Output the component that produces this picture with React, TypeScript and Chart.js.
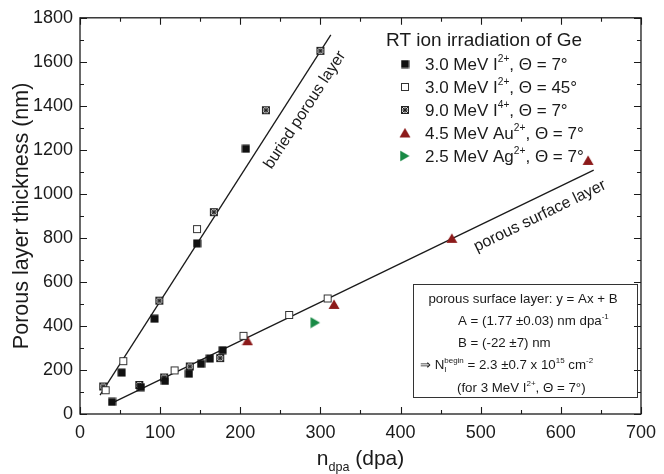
import React, { useEffect, useRef } from 'react';
import { Chart, registerables } from 'chart.js';

Chart.register(...registerables);

// ---- data (n_dpa, thickness nm) ----
const iodine2p7: number[][] = [
  [40, 55], [52, 188], [76, 122], [93, 433], [106, 150], [136, 183],
  [151, 228], [162, 252], [178, 290], [146, 775], [207, 1205],
];
const iodine2p45: number[][] = [
  [32, 108], [54, 240], [118, 198], [146, 840], [204, 355], [261, 450], [309, 525],
];
const iodine4p7: number[][] = [
  [29, 125], [74, 132], [99, 515], [105, 166], [137, 216], [175, 254],
  [167, 917], [232, 1380], [300, 1650],
];
const gold2p7: number[][] = [[209, 333], [317, 498], [464, 798], [634, 1152]];
const silver2p7: number[][] = [[294, 415]];
const buriedFit: number[][] = [[25, 86], [313, 1722]];
const surfaceFit: number[][] = [[39, 48], [641, 1108]];

const xTicks = [0, 100, 200, 300, 400, 500, 600, 700];
const yTicks = [0, 200, 400, 600, 800, 1000, 1200, 1400, 1600, 1800];

const legendLabels = [
  ['3.0 MeV I', '2+', ', \u0398 = 7\u00B0'],
  ['3.0 MeV I', '2+', ', \u0398 = 45\u00B0'],
  ['9.0 MeV I', '4+', ', \u0398 = 7\u00B0'],
  ['4.5 MeV Au', '2+', ', \u0398 = 7\u00B0'],
  ['2.5 MeV Ag', '2+', ', \u0398 = 7\u00B0'],
];

const FF = "'Liberation Sans', Arial, sans-serif";
const RED = '#8c1a1a';
const GREEN = '#188a45';

function mk(w: number, h: number, draw: (c: CanvasRenderingContext2D) => void) {
  const cv = document.createElement('canvas');
  cv.width = w;
  cv.height = h;
  const c = cv.getContext('2d')!;
  draw(c);
  return cv;
}

function makeMarkers() {
  const filled = mk(9, 9, (c) => {
    c.fillStyle = '#111';
    c.fillRect(0.5, 0.5, 8, 8);
  });
  const open = mk(10, 10, (c) => {
    c.fillStyle = '#fff';
    c.fillRect(1, 1, 8, 8);
    c.strokeStyle = '#333';
    c.lineWidth = 1;
    c.strokeRect(1.5, 1.5, 7, 7);
  });
  const crossed = mk(10, 10, (c) => {
    c.fillStyle = '#d8d8d8';
    c.fillRect(1, 1, 8, 8);
    c.strokeStyle = '#222';
    c.lineWidth = 1;
    c.strokeRect(1.5, 1.5, 7, 7);
    c.beginPath();
    c.moveTo(2, 2); c.lineTo(8, 8);
    c.moveTo(8, 2); c.lineTo(2, 8);
    c.stroke();
    c.beginPath();
    c.arc(5, 5, 2, 0, Math.PI * 2);
    c.stroke();
  });
  const triUp = mk(12, 11, (c) => {
    c.fillStyle = RED;
    c.beginPath();
    c.moveTo(6, 0.5); c.lineTo(11.5, 10); c.lineTo(0.5, 10);
    c.closePath();
    c.fill();
  });
  const triRight = mk(11, 12, (c) => {
    c.fillStyle = GREEN;
    c.beginPath();
    c.moveTo(0.5, 0.5); c.lineTo(10, 6); c.lineTo(0.5, 11.5);
    c.closePath();
    c.fill();
  });
  return [filled, open, crossed, triUp, triRight];
}

type Part = { t: string; k?: 'sup' | 'sub'; sub?: string };

function drawRich(ctx: CanvasRenderingContext2D, parts: Part[], x: number, y: number, size: number) {
  let cx = x;
  for (const p of parts) {
    if (!p.k) {
      ctx.font = `${size}px ${FF}`;
      ctx.fillText(p.t, cx, y);
      cx += ctx.measureText(p.t).width;
    } else if (p.k === 'sup') {
      ctx.font = `${size * 0.6}px ${FF}`;
      ctx.fillText(p.t, cx, y - size * 0.45);
      let w = ctx.measureText(p.t).width;
      if (p.sub) {
        ctx.fillText(p.sub, cx, y + size * 0.25);
        w = Math.max(w, ctx.measureText(p.sub).width);
      }
      cx += w;
    } else {
      ctx.font = `${size * 0.6}px ${FF}`;
      ctx.fillText(p.t, cx, y + size * 0.3);
      cx += ctx.measureText(p.t).width;
    }
  }
  return cx - x;
}

function measureRich(ctx: CanvasRenderingContext2D, parts: Part[], size: number) {
  let w = 0;
  for (const p of parts) {
    ctx.font = p.k ? `${size * 0.6}px ${FF}` : `${size}px ${FF}`;
    let pw = ctx.measureText(p.t).width;
    if (p.sub) pw = Math.max(pw, ctx.measureText(p.sub).width);
    w += pw;
  }
  return w;
}

export default function App() {
  const ref = useRef<HTMLCanvasElement>(null);

  useEffect(() => {
    document.body.style.margin = '0';
    const markers = makeMarkers();

    const decor = {
      id: 'decor',
      afterDraw(chart: any) {
        const { ctx, chartArea: a, scales } = chart;
        const xs = scales.x;
        const ys = scales.y;
        ctx.save();
        // frame
        ctx.strokeStyle = '#1a1a1a';
        ctx.lineWidth = 1.3;
        ctx.strokeRect(a.left, a.top, a.right - a.left, a.bottom - a.top);
        ctx.lineWidth = 1.1;
        ctx.beginPath();
        for (let v = xTicks[0]; v <= xTicks[xTicks.length - 1]; v += 50) {
          const px = Math.round(xs.getPixelForValue(v)) + 0.5;
          const len = v % 100 === 0 ? 7 : 4;
          ctx.moveTo(px, a.bottom); ctx.lineTo(px, a.bottom - len);
          ctx.moveTo(px, a.top); ctx.lineTo(px, a.top + len);
        }
        for (let v = yTicks[0]; v <= yTicks[yTicks.length - 1]; v += 100) {
          const py = Math.round(ys.getPixelForValue(v)) + 0.5;
          const len = v % 200 === 0 ? 7 : 4;
          ctx.moveTo(a.left, py); ctx.lineTo(a.left + len, py);
          ctx.moveTo(a.right, py); ctx.lineTo(a.right - len, py);
        }
        ctx.stroke();

        ctx.fillStyle = '#1a1a1a';
        ctx.textBaseline = 'alphabetic';
        // y title
        ctx.save();
        ctx.translate(28, (a.top + a.bottom) / 2);
        ctx.rotate(-Math.PI / 2);
        ctx.font = `21.5px ${FF}`;
        ctx.textAlign = 'center';
        ctx.fillText('Porous layer thickness (nm)', 0, 0);
        ctx.restore();
        // x title
        const xt: Part[] = [{ t: 'n' }, { t: 'dpa', k: 'sub' }, { t: ' (dpa)' }];
        const xw = measureRich(ctx, xt, 21);
        ctx.textAlign = 'left';
        drawRich(ctx, xt, (a.left + a.right) / 2 - xw / 2, 465, 21);

        // legend
        ctx.font = `19px ${FF}`;
        ctx.fillText('RT ion irradiation of Ge', 386, 46);
        legendLabels.forEach((lab, i) => {
          const by = 70 + 23 * i;
          const m = markers[i];
          ctx.drawImage(m, 405 - m.width / 2, by - 6 - m.height / 2);
          drawRich(ctx, [{ t: lab[0] }, { t: lab[1], k: 'sup' }, { t: lab[2] }], 425, by, 17);
        });

        // fit box
        ctx.lineWidth = 1;
        ctx.strokeStyle = '#333';
        ctx.strokeRect(413.5, 284.5, 224, 113);
        const bs = 13.3;
        const l1: Part[] = [{ t: 'porous surface layer: y = Ax + B' }];
        drawRich(ctx, l1, 523 - measureRich(ctx, l1, bs) / 2, 303, bs);
        drawRich(ctx, [{ t: 'A = (1.77 \u00B10.03) nm dpa' }, { t: '-1', k: 'sup' }], 458, 325, bs);
        drawRich(ctx, [{ t: 'B = (-22 \u00B17) nm' }], 458, 347, bs);
        drawRich(ctx, [
          { t: '\u21D2 N' }, { t: 'begin', k: 'sup', sub: 'I' },
          { t: ' = 2.3 \u00B10.7 x 10' }, { t: '15', k: 'sup' }, { t: ' cm' }, { t: '-2', k: 'sup' },
        ], 420, 369, bs);
        drawRich(ctx, [{ t: '(for 3 MeV I' }, { t: '2+', k: 'sup' }, { t: ', \u0398 = 7\u00B0)' }], 457, 392, bs);

        // line labels
        ctx.font = `16px ${FF}`;
        ctx.textAlign = 'center';
        ctx.textBaseline = 'middle';
        ctx.save();
        ctx.translate(305, 110);
        ctx.rotate(-57 * Math.PI / 180);
        ctx.fillText('buried porous layer', 0, 0);
        ctx.restore();
        ctx.save();
        ctx.translate(540, 216);
        ctx.rotate(-26 * Math.PI / 180);
        ctx.fillText('porous surface layer', 0, 0);
        ctx.restore();

        ctx.restore();
      },
    };

    const toPts = (arr: number[][]) => arr.map(([x, y]) => ({ x, y }));
    const pointDs = (label: string, arr: number[][], m: HTMLCanvasElement) => ({
      type: 'scatter' as const,
      label,
      data: toPts(arr),
      pointStyle: m,
      pointRadius: 5,
      order: 0,
      showLine: false,
    });
    const lineDs = (label: string, arr: number[][]) => ({
      type: 'line' as const,
      label,
      data: toPts(arr),
      borderColor: '#1a1a1a',
      borderWidth: 1.3,
      pointRadius: 0,
      fill: false,
      order: 10,
    });

    const chart = new Chart(ref.current!, {
      type: 'scatter',
      data: {
        datasets: [
          lineDs('buried', buriedFit),
          lineDs('surface', surfaceFit),
          pointDs('3.0 MeV I2+ 7', iodine2p7, markers[0]),
          pointDs('3.0 MeV I2+ 45', iodine2p45, markers[1]),
          pointDs('9.0 MeV I4+ 7', iodine4p7, markers[2]),
          pointDs('4.5 MeV Au2+ 7', gold2p7, markers[3]),
          pointDs('2.5 MeV Ag2+ 7', silver2p7, markers[4]),
        ] as any,
      },
      options: {
        responsive: false,
        animation: false,
        layout: { padding: { top: 16, right: 19, left: 0, bottom: 0 } },
        plugins: { legend: { display: false }, tooltip: { enabled: false } },
        scales: {
          x: {
            type: 'linear',
            min: xTicks[0],
            max: xTicks[xTicks.length - 1],
            afterBuildTicks: (s: any) => { s.ticks = xTicks.map((v) => ({ value: v })); },
            afterFit: (s: any) => { s.height = 60; },
            grid: { display: false, drawTicks: false },
            border: { display: false },
            ticks: {
              color: '#1a1a1a', font: { family: FF, size: 18 }, padding: 8, maxRotation: 0,
              callback: (v: any) => String(v),
            },
          },
          y: {
            type: 'linear',
            min: yTicks[0],
            max: yTicks[yTicks.length - 1],
            afterBuildTicks: (s: any) => { s.ticks = yTicks.map((v) => ({ value: v })); },
            afterFit: (s: any) => { s.width = 80; },
            grid: { display: false, drawTicks: false },
            border: { display: false },
            ticks: {
              color: '#1a1a1a', font: { family: FF, size: 18 }, padding: 7,
              callback: (v: any) => String(v),
            },
          },
        },
      },
      plugins: [decor],
    });
    return () => chart.destroy();
  }, []);

  return (
    <div style={{ width: 664, height: 474, background: '#fff' }}>
      <canvas ref={ref} width={664} height={474} />
    </div>
  );
}
